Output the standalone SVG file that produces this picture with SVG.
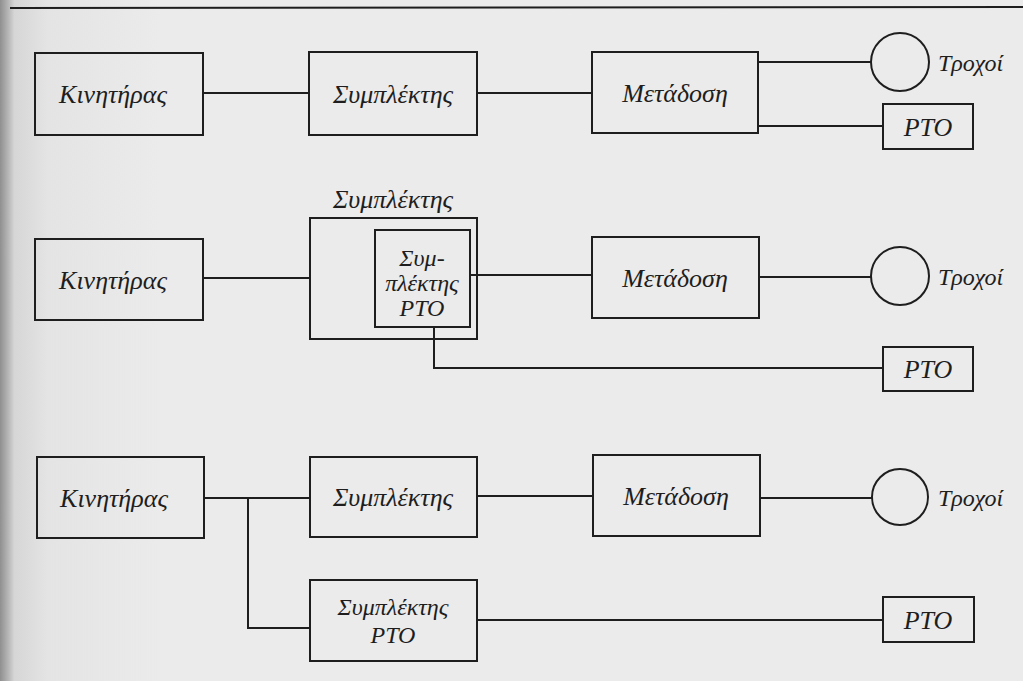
<svg xmlns="http://www.w3.org/2000/svg" width="1023" height="681" viewBox="0 0 1023 681" font-family="Liberation Serif, Times New Roman, serif" font-style="italic">
<defs>
<linearGradient id="shade" x1="0" y1="0" x2="1" y2="0">
<stop offset="0" stop-color="#8f8f8f"/>
<stop offset="0.06" stop-color="#bdbdbd"/>
<stop offset="0.09" stop-color="#d6d6d6"/>
<stop offset="0.3" stop-color="#e4e4e4"/>
<stop offset="1" stop-color="#ebebeb"/>
</linearGradient>
<style>
.box{fill:none;stroke:#1e1e1e;stroke-width:2}
.ln{fill:none;stroke:#1e1e1e;stroke-width:2}
.t{font-size:26px;fill:#1e1e1e;text-anchor:middle;dominant-baseline:central}
.i{font-size:24px;fill:#1e1e1e;text-anchor:middle;dominant-baseline:central}
.s{font-size:24px;fill:#1e1e1e;dominant-baseline:central}
</style>
</defs>
<rect x="0" y="0" width="1023" height="681" fill="#ebebeb"/>
<rect x="0" y="0" width="160" height="681" fill="url(#shade)"/>
<line x1="10" y1="8" x2="1023" y2="7" stroke="#1e1e1e" stroke-width="2"/>

<g id="connectors">
<line class="ln" x1="203" y1="93" x2="309" y2="93"/>
<line class="ln" x1="477" y1="93" x2="592" y2="93"/>
<line class="ln" x1="758" y1="62" x2="871" y2="62"/>
<line class="ln" x1="758" y1="126" x2="883" y2="126"/>
<line class="ln" x1="203" y1="278" x2="310" y2="278"/>
<line class="ln" x1="470" y1="275" x2="592" y2="275"/>
<line class="ln" x1="759" y1="277" x2="871" y2="277"/>
<polyline class="ln" points="434,327 434,368 883,368"/>
<line class="ln" x1="204" y1="498" x2="310" y2="498"/>
<polyline class="ln" points="248,498 248,628 310,628"/>
<line class="ln" x1="477" y1="496" x2="593" y2="496"/>
<line class="ln" x1="760" y1="498" x2="872" y2="498"/>
<line class="ln" x1="477" y1="620" x2="883" y2="620"/>
</g>

<g id="engine1"><rect class="box" x="35" y="53" width="168" height="82"/><text class="t" x="113" y="94">Κινητήρας</text></g>
<g id="clutch1"><rect class="box" x="309" y="52" width="168" height="83"/><text class="t" x="393" y="94">Συμπλέκτης</text></g>
<g id="trans1"><rect class="box" x="592" y="52" width="166" height="81"/><text class="t" x="675" y="93">Μετάδοση</text></g>
<g id="wheels1"><circle class="box" cx="900" cy="62" r="29"/><text class="s" x="938" y="63">Τροχοί</text></g>
<g id="pto1"><rect class="box" x="883" y="104" width="90" height="45"/><text class="t" x="928" y="127">PTO</text></g>

<g id="engine2"><rect class="box" x="35" y="239" width="168" height="81"/><text class="t" x="113" y="280">Κινητήρας</text></g>
<g id="clutch2">
<text class="t" x="393" y="199">Συμπλέκτης</text>
<rect class="box" x="310" y="218" width="167" height="121"/>
<rect class="box" x="375" y="230" width="95" height="97"/>
<text class="i" x="422" y="258">Συμ-</text>
<text class="i" x="422" y="283">πλέκτης</text>
<text class="i" x="422" y="308">PTO</text>
</g>
<g id="trans2"><rect class="box" x="592" y="237" width="167" height="81"/><text class="t" x="675" y="278">Μετάδοση</text></g>
<g id="wheels2"><circle class="box" cx="900" cy="276" r="29"/><text class="s" x="938" y="277">Τροχοί</text></g>
<g id="pto2"><rect class="box" x="883" y="347" width="90" height="44"/><text class="t" x="928" y="369">PTO</text></g>

<g id="engine3"><rect class="box" x="37" y="457" width="167" height="81"/><text class="t" x="114" y="498">Κινητήρας</text></g>
<g id="clutch3"><rect class="box" x="310" y="457" width="167" height="80"/><text class="t" x="393" y="497">Συμπλέκτης</text></g>
<g id="trans3"><rect class="box" x="593" y="455" width="167" height="81"/><text class="t" x="676" y="496">Μετάδοση</text></g>
<g id="wheels3"><circle class="box" cx="900" cy="497" r="28"/><text class="s" x="938" y="498">Τροχοί</text></g>
<g id="ptoclutch3"><rect class="box" x="310" y="580" width="167" height="81"/><text class="i" x="393" y="607">Συμπλέκτης</text><text class="i" x="393" y="635">PTO</text></g>
<g id="pto3"><rect class="box" x="883" y="597" width="91" height="45"/><text class="t" x="928" y="620">PTO</text></g>
</svg>
